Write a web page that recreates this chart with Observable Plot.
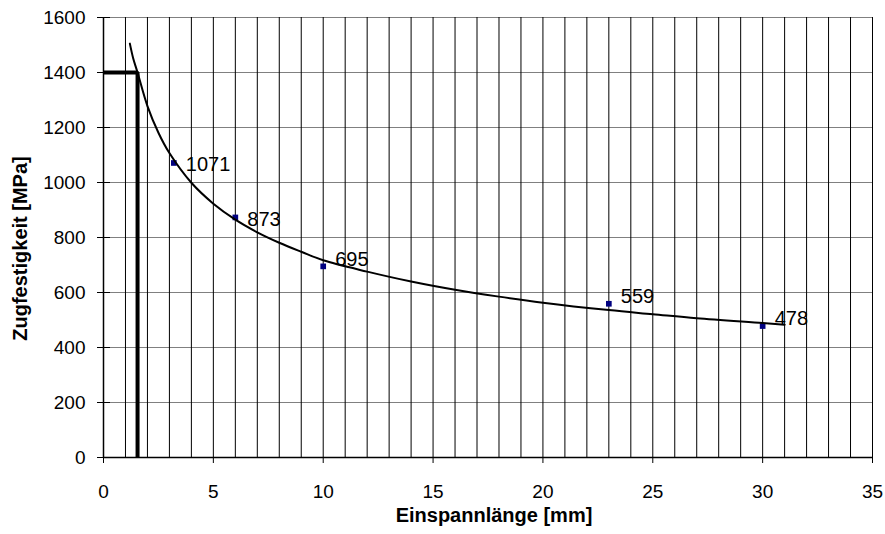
<!DOCTYPE html>
<html><head><meta charset="utf-8">
<script src="https://cdn.jsdelivr.net/npm/d3@7"></script>
<script src="https://cdn.jsdelivr.net/npm/@observablehq/plot@0.6"></script>
<style>body{margin:0;background:#fff;}</style>
</head><body><div id="chart"></div>
<script>
// measured points
const pointX = [3.2, 6, 10, 23, 30];
const pointY = [1071, 873, 695, 559, 478];
// trend curve
const curveX = [1.2, 1.35, 1.55, 2, 2.5, 3, 4, 5, 6, 7, 8, 9, 10, 12, 14, 16, 18, 20, 23, 25, 27, 30, 31];
const curveY = [1505, 1452, 1400, 1278, 1181, 1107, 999, 923, 865, 819, 781, 748, 717, 676, 640, 610, 585, 563, 536, 521, 506, 489, 483];
// limit lines
const limitX = [0, 1.55, 1.55];
const limitY = [1400, 1400, 0];
// ticks
const xTicks = [0, 5, 10, 15, 20, 25, 30, 35];
const yTicks = [0, 200, 400, 600, 800, 1000, 1200, 1400, 1600];
const xGrid = [0,1,2,3,4,5,6,7,8,9,10,11,12,13,14,15,16,17,18,19,20,21,22,23,24,25,26,27,28,29,30,31,32,33,34,35];

const pts = pointX.map((x, i) => ({x, y: pointY[i]}));
const curve = curveX.map((x, i) => ({x, y: curveY[i]}));
const limit = limitX.map((x, i) => ({x, y: limitY[i]}));

const chart = Plot.plot({
  width: 885, height: 534,
  marginLeft: 103, marginRight: 13, marginTop: 17, marginBottom: 77,
  style: {fontFamily: "'Liberation Sans', Arial, sans-serif", fontSize: "19px", background: "#fff", color: "#000", overflow: "visible"},
  x: {domain: [0, 35]},
  y: {domain: [0, 1600]},
  marks: [
    Plot.ruleY(yTicks.slice(1), {stroke: "#808080", strokeWidth: 1}),
    Plot.ruleX(xGrid, {stroke: "#000", strokeWidth: 1}),
    Plot.tickY(yTicks, {y: d => d, stroke: "#000", insetRight: 762}),
    Plot.axisY({ticks: yTicks, tickSize: 6, tickPadding: 12, label: null, fontSize: 19, tickFormat: d => String(d)}),
    Plot.axisX({ticks: xTicks, tickSize: 6, tickPadding: 21, label: null, fontSize: 19, tickFormat: d => String(d)}),
    Plot.ruleX([0], {stroke: "#000", strokeWidth: 1.5}),
    Plot.ruleY([0], {stroke: "#000", strokeWidth: 1.5}),
    Plot.line(limit, {x: "x", y: "y", stroke: "#000", strokeWidth: 4, strokeLinecap: "butt", strokeLinejoin: "miter"}),
    Plot.dot(pts, {x: "x", y: "y", symbol: "square", r: 3.2, fill: "#000080", stroke: "none"}),
    Plot.line(curve, {x: "x", y: "y", stroke: "#000", strokeWidth: 2, curve: "catmull-rom"}),
    Plot.text(pts, {filter: (d, i) => i < 2, x: "x", y: "y", text: d => String(d.y), textAnchor: "start", dx: 12, dy: 2, fontSize: 20, fill: "#000"}),
    Plot.text(pts, {filter: (d, i) => i >= 2, x: "x", y: "y", text: d => String(d.y), textAnchor: "start", dx: 12, dy: -7, fontSize: 20, fill: "#000"}),
    Plot.text(["Einspannlänge [mm]"], {frameAnchor: "bottom", lineAnchor: "middle", textAnchor: "middle", dx: 6, dy: 58, fontWeight: "bold", fontSize: 20, fill: "#000"}),
    Plot.text(["Zugfestigkeit [MPa]"], {frameAnchor: "left", lineAnchor: "middle", textAnchor: "middle", dx: -83, dy: 11, rotate: -90, fontWeight: "bold", fontSize: 20, fill: "#000"})
  ]
});
document.getElementById("chart").appendChild(chart);
</script>
</body></html>
